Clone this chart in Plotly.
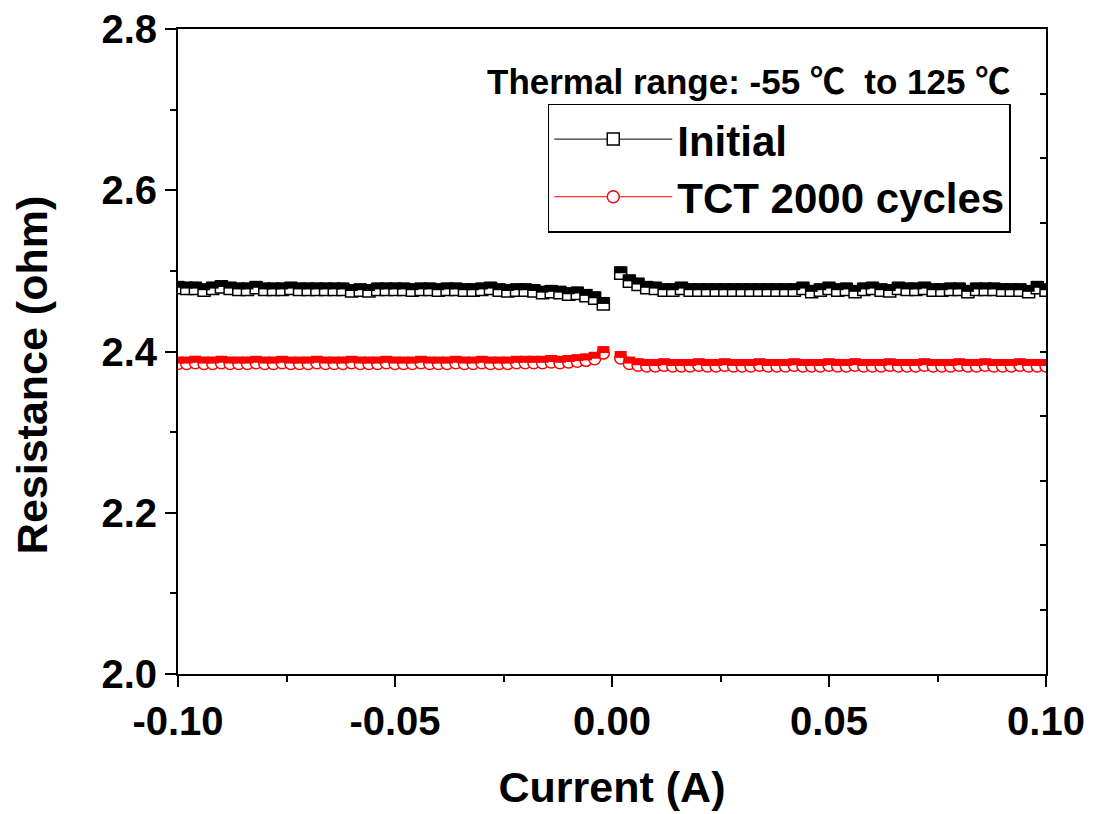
import plotly.graph_objects as go

# ---------------- data ----------------
current = [
    -0.100, -0.098, -0.096, -0.094, -0.092, -0.090, -0.088, -0.086, -0.084, -0.082,
    -0.080, -0.078, -0.076, -0.074, -0.072, -0.070, -0.068, -0.066, -0.064, -0.062,
    -0.060, -0.058, -0.056, -0.054, -0.052, -0.050, -0.048, -0.046, -0.044, -0.042,
    -0.040, -0.038, -0.036, -0.034, -0.032, -0.030, -0.028, -0.026, -0.024, -0.022,
    -0.020, -0.018, -0.016, -0.014, -0.012, -0.010, -0.008, -0.006, -0.004, -0.002,
    0.000,
    0.002, 0.004, 0.006, 0.008, 0.010, 0.012, 0.014, 0.016, 0.018, 0.020,
    0.022, 0.024, 0.026, 0.028, 0.030, 0.032, 0.034, 0.036, 0.038, 0.040,
    0.042, 0.044, 0.046, 0.048, 0.050, 0.052, 0.054, 0.056, 0.058, 0.060,
    0.062, 0.064, 0.066, 0.068, 0.070, 0.072, 0.074, 0.076, 0.078, 0.080,
    0.082, 0.084, 0.086, 0.088, 0.090, 0.092, 0.094, 0.096, 0.098, 0.100,
]

initial = [
    2.479, 2.478, 2.478, 2.476, 2.478, 2.480, 2.478, 2.477, 2.477, 2.479,
    2.477, 2.477, 2.477, 2.478, 2.477, 2.477, 2.477, 2.477, 2.477, 2.477,
    2.475, 2.476, 2.475, 2.477, 2.477, 2.477, 2.477, 2.476, 2.477, 2.477,
    2.476, 2.477, 2.477, 2.476, 2.476, 2.477, 2.478, 2.476, 2.475, 2.476,
    2.476, 2.475, 2.473, 2.474, 2.473, 2.471, 2.472, 2.469, 2.466, 2.459,
    None,
    2.497, 2.487, 2.483, 2.479, 2.478, 2.476, 2.476, 2.478, 2.476, 2.476,
    2.476, 2.476, 2.476, 2.476, 2.476, 2.476, 2.476, 2.476, 2.476, 2.476,
    2.476, 2.478, 2.474, 2.476, 2.478, 2.476, 2.477, 2.474, 2.477, 2.478,
    2.476, 2.475, 2.478, 2.477, 2.477, 2.478, 2.476, 2.476, 2.477, 2.477,
    2.474, 2.477, 2.477, 2.477, 2.476, 2.476, 2.476, 2.474, 2.479, 2.476,
]

tct_2000 = [
    2.385, 2.385, 2.386, 2.385, 2.385, 2.386, 2.385, 2.385, 2.385, 2.386,
    2.385, 2.385, 2.386, 2.385, 2.385, 2.385, 2.386, 2.385, 2.385, 2.385,
    2.386, 2.385, 2.385, 2.385, 2.386, 2.385, 2.385, 2.385, 2.386, 2.385,
    2.385, 2.385, 2.386, 2.385, 2.385, 2.386, 2.385, 2.385, 2.385, 2.386,
    2.386, 2.386, 2.386, 2.387, 2.386, 2.387, 2.388, 2.389, 2.391, 2.398,
    None,
    2.392, 2.385, 2.383, 2.382, 2.382, 2.383, 2.382, 2.382, 2.382, 2.383,
    2.382, 2.382, 2.383, 2.382, 2.382, 2.382, 2.383, 2.382, 2.382, 2.382,
    2.383, 2.382, 2.382, 2.382, 2.383, 2.382, 2.382, 2.383, 2.382, 2.382,
    2.382, 2.383, 2.382, 2.382, 2.382, 2.383, 2.382, 2.382, 2.382, 2.383,
    2.382, 2.382, 2.383, 2.382, 2.382, 2.382, 2.383, 2.382, 2.382, 2.382,
]

x_tickvals = [-0.10, -0.05, 0.00, 0.05, 0.10]
x_ticktext = ["-0.10", "-0.05", "0.00", "0.05", "0.10"]
x_minor = [-0.075, -0.025, 0.025, 0.075]
y_tickvals = [2.0, 2.2, 2.4, 2.6, 2.8]
y_ticktext = ["2.0", "2.2", "2.4", "2.6", "2.8"]
y_minor = [2.1, 2.3, 2.5, 2.7]
right_ticks = [2.08, 2.16, 2.24, 2.32, 2.40, 2.48, 2.56, 2.64, 2.72]

series_names = ["Initial", "TCT 2000 cycles"]
series_colors = ["#000000", "#FF0000"]
series_symbols = ["square", "circle"]

FONT = "Liberation Sans, Arial, Noto Sans CJK SC, sans-serif"
MS = 12

fig = go.Figure()


def add_series(y, color, symbol, name):
    # lower (open) half with connecting line
    fig.add_trace(go.Scatter(
        x=current, y=y, mode="lines+markers", name=name,
        line=dict(color=color, width=1),
        marker=dict(symbol=symbol, size=MS, color="white",
                    line=dict(color=color, width=1.5)),
        connectgaps=False,
    ))
    # filled upper half of the marker (shifted up by a quarter of the marker)
    fig.add_trace(go.Scatter(
        x=current, y=y, mode="markers", showlegend=False, yaxis="y2",
        marker=dict(symbol="line-ew", size=MS / 1.4, angle=180, standoff=3.5,
                    color=color, line=dict(color=color, width=7)),
    ))


add_series(initial, series_colors[0], series_symbols[0], series_names[0])
add_series(tct_2000, series_colors[1], series_symbols[1], series_names[1])

axis_common = dict(
    showline=True, linewidth=2, linecolor="black", mirror=True,
    showgrid=False, zeroline=False, automargin=False,
    ticks="outside", ticklen=11, tickwidth=2, tickcolor="black",
    tickfont=dict(family=FONT, size=40, color="black", weight="bold"),
)

fig.update_layout(
    width=1093, height=814,
    margin=dict(l=178, r=47, t=29, b=140),
    paper_bgcolor="white", plot_bgcolor="white",
    font=dict(family=FONT, color="black"),
    showlegend=True,
    legend=dict(
        x=0.426, y=0.884, xanchor="left", yanchor="top",
        bordercolor="black", borderwidth=1.5, bgcolor="white",
        font=dict(family=FONT, size=42, color="black", weight="bold"),
        itemwidth=118, tracegroupgap=0,
    ),
    xaxis=dict(
        range=[-0.1, 0.1], tickvals=x_tickvals, ticktext=x_ticktext,
        minor=dict(tickvals=x_minor, ticks="outside", ticklen=6, tickwidth=2, tickcolor="black"),
        title=dict(text="Current (A)", standoff=30,
                   font=dict(family=FONT, size=43, color="black", weight="bold")),
        **axis_common,
    ),
    yaxis=dict(
        range=[2.0, 2.8], tickvals=y_tickvals, ticktext=y_ticktext,
        minor=dict(tickvals=y_minor, ticks="outside", ticklen=6, tickwidth=2, tickcolor="black"),
        **axis_common,
    ),
    yaxis2=dict(
        overlaying="y", side="right", range=[2.0, 2.8], automargin=False,
        tickvals=right_ticks, ticks="inside", ticklen=6, tickwidth=2, tickcolor="black",
        showticklabels=False, showgrid=False, zeroline=False, showline=False,
    ),
    annotations=[
        dict(
            text="Thermal range: -55 ℃  to 125 ℃",
            xref="paper", yref="paper", x=0.961, y=0.918,
            xanchor="right", yanchor="middle", showarrow=False,
            font=dict(family=FONT, size=35, color="black", weight="bold"),
        ),
        dict(
            text="Resistance (ohm)", textangle=-90,
            xref="paper", yref="paper", x=-0.168, y=0.4636,
            xanchor="center", yanchor="middle", showarrow=False,
            font=dict(family=FONT, size=43, color="black", weight="bold"),
        ),
    ],
)

fig.write_html("out.html")
